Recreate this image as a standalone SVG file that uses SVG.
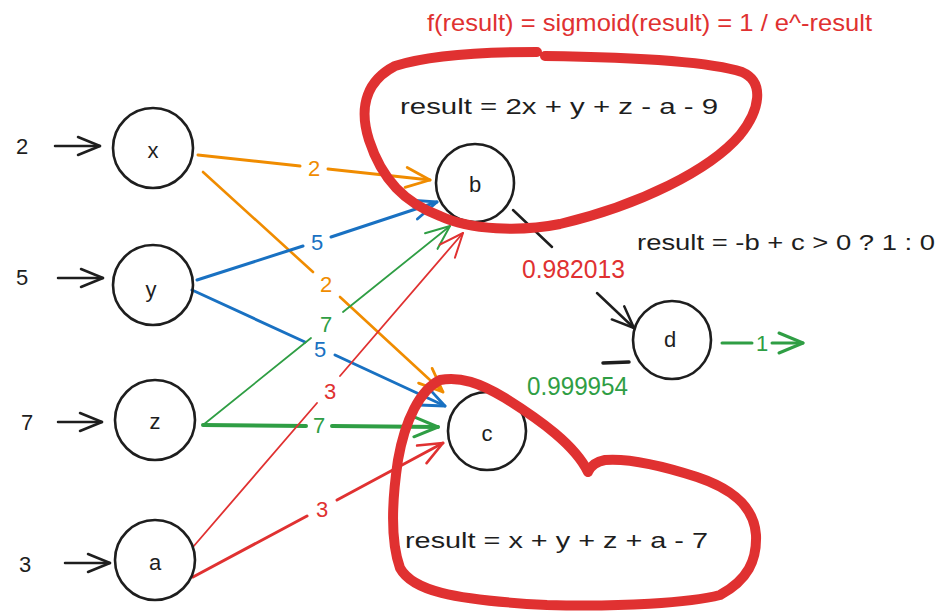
<svg xmlns="http://www.w3.org/2000/svg" width="950" height="613" viewBox="0 0 950 613">
  <style>
    .t { font-family: "Liberation Sans", Arial, sans-serif; }
    .node { fill: none; stroke: #1e1e1e; stroke-width: 2.6; }
    .nl { font-size: 22px; fill: #1e1e1e; text-anchor: middle; dominant-baseline: central; }
    .el { font-size: 22px; text-anchor: middle; dominant-baseline: central; }
    .e { fill: none; stroke-linecap: round; }
    .blob { fill: none; stroke: #e03131; stroke-width: 10; stroke-linecap: round; stroke-linejoin: round; }
  </style>
  <defs>
    <marker id="ah-k" markerUnits="userSpaceOnUse" markerWidth="30" markerHeight="24" viewBox="-26 -12 30 24" refX="0" refY="0" orient="auto">
      <path d="M-22,-9 L0,0 L-22,9" fill="none" stroke="#1e1e1e" stroke-width="2.5" stroke-linecap="round" stroke-linejoin="round"/>
    </marker>
    <marker id="ah-o" markerUnits="userSpaceOnUse" markerWidth="30" markerHeight="24" viewBox="-26 -12 30 24" refX="0" refY="0" orient="auto">
      <path d="M-24,-10 L0,0 L-24,10" fill="none" stroke="#f08c00" stroke-width="2.8" stroke-linecap="round" stroke-linejoin="round"/>
    </marker>
    <marker id="ah-b" markerUnits="userSpaceOnUse" markerWidth="30" markerHeight="24" viewBox="-26 -12 30 24" refX="0" refY="0" orient="auto">
      <path d="M-24,-10 L0,0 L-24,10" fill="none" stroke="#1971c2" stroke-width="2.8" stroke-linecap="round" stroke-linejoin="round"/>
    </marker>
    <marker id="ah-g" markerUnits="userSpaceOnUse" markerWidth="30" markerHeight="24" viewBox="-26 -12 30 24" refX="0" refY="0" orient="auto">
      <path d="M-24,-10 L0,0 L-24,10" fill="none" stroke="#2f9e44" stroke-width="3" stroke-linecap="round" stroke-linejoin="round"/>
    </marker>
    <marker id="ah-gt" markerUnits="userSpaceOnUse" markerWidth="30" markerHeight="24" viewBox="-26 -12 30 24" refX="0" refY="0" orient="auto">
      <path d="M-24,-10 L0,0 L-24,10" fill="none" stroke="#2f9e44" stroke-width="2" stroke-linecap="round" stroke-linejoin="round"/>
    </marker>
    <marker id="ah-r" markerUnits="userSpaceOnUse" markerWidth="30" markerHeight="24" viewBox="-26 -12 30 24" refX="0" refY="0" orient="auto">
      <path d="M-24,-10 L0,0 L-24,10" fill="none" stroke="#e03131" stroke-width="2.6" stroke-linecap="round" stroke-linejoin="round"/>
    </marker>
    <marker id="ah-rt" markerUnits="userSpaceOnUse" markerWidth="30" markerHeight="24" viewBox="-26 -12 30 24" refX="0" refY="0" orient="auto">
      <path d="M-24,-10 L0,0 L-24,10" fill="none" stroke="#e03131" stroke-width="2" stroke-linecap="round" stroke-linejoin="round"/>
    </marker>
  </defs>

  <!-- input values -->
  <g id="inputs" class="t">
    <text x="22" y="146" class="nl">2</text>
    <text x="22" y="277" class="nl">5</text>
    <text x="27" y="422" class="nl">7</text>
    <text x="25" y="564" class="nl">3</text>
  </g>

  <!-- connectors -->
  <g id="connectors">
    <!-- inputs -->
    <line class="e" x1="55" y1="146" x2="100" y2="146" stroke="#1e1e1e" stroke-width="2.5" marker-end="url(#ah-k)"/>
    <line class="e" x1="58" y1="278" x2="103" y2="278" stroke="#1e1e1e" stroke-width="2.5" marker-end="url(#ah-k)"/>
    <line class="e" x1="58" y1="422" x2="102" y2="422" stroke="#1e1e1e" stroke-width="2.5" marker-end="url(#ah-k)"/>
    <line class="e" x1="65" y1="563" x2="110" y2="563" stroke="#1e1e1e" stroke-width="2.5" marker-end="url(#ah-k)"/>

    <!-- x -> b -->
    <line class="e" x1="198" y1="155" x2="300" y2="166" stroke="#f08c00" stroke-width="3"/>
    <line class="e" x1="328" y1="169" x2="430" y2="180" stroke="#f08c00" stroke-width="3" marker-end="url(#ah-o)"/>
    <!-- x -> c -->
    <line class="e" x1="203" y1="172" x2="313" y2="272" stroke="#f08c00" stroke-width="2.6"/>
    <line class="e" x1="340" y1="297" x2="443" y2="392" stroke="#f08c00" stroke-width="2.6" marker-end="url(#ah-o)"/>
    <!-- y -> b -->
    <line class="e" x1="197" y1="280" x2="303" y2="246" stroke="#1971c2" stroke-width="3"/>
    <line class="e" x1="331" y1="237" x2="437" y2="202" stroke="#1971c2" stroke-width="3" marker-end="url(#ah-b)"/>
    <!-- y -> c -->
    <line class="e" x1="192" y1="290" x2="305" y2="342" stroke="#1971c2" stroke-width="3"/>
    <line class="e" x1="335" y1="355" x2="445" y2="406" stroke="#1971c2" stroke-width="3" marker-end="url(#ah-b)"/>
    <!-- z -> b -->
    <line class="e" x1="203" y1="425" x2="311" y2="338" stroke="#2f9e44" stroke-width="1.8"/>
    <line class="e" x1="343" y1="312" x2="450" y2="226" stroke="#2f9e44" stroke-width="1.8" marker-end="url(#ah-gt)"/>
    <!-- z -> c -->
    <line class="e" x1="203" y1="425" x2="306" y2="426" stroke="#2f9e44" stroke-width="4"/>
    <line class="e" x1="332" y1="426" x2="438" y2="427" stroke="#2f9e44" stroke-width="4" marker-end="url(#ah-g)"/>
    <!-- a -> b -->
    <line class="e" x1="193" y1="547" x2="317" y2="403" stroke="#e03131" stroke-width="1.8"/>
    <line class="e" x1="340" y1="376" x2="463" y2="233" stroke="#e03131" stroke-width="1.8" marker-end="url(#ah-rt)"/>
    <!-- a -> c -->
    <line class="e" x1="193" y1="577" x2="307" y2="516" stroke="#e03131" stroke-width="3"/>
    <line class="e" x1="337" y1="500" x2="443" y2="443" stroke="#e03131" stroke-width="3" marker-end="url(#ah-r)"/>
    <!-- b -> d -->
    <line class="e" x1="513" y1="210" x2="552" y2="247" stroke="#1e1e1e" stroke-width="2.5"/>
    <line class="e" x1="597" y1="293" x2="634" y2="328" stroke="#1e1e1e" stroke-width="2.5" marker-end="url(#ah-k)"/>
    <!-- c -> d -->
    <line class="e" x1="603" y1="363" x2="629" y2="362" stroke="#1e1e1e" stroke-width="3.5"/>
    <!-- d -> output -->
    <line class="e" x1="722" y1="343" x2="752" y2="343" stroke="#2f9e44" stroke-width="3"/>
    <line class="e" x1="772" y1="343" x2="803" y2="343" stroke="#2f9e44" stroke-width="3" marker-end="url(#ah-g)"/>

    <!-- connector labels -->
    <g class="t">
      <text x="314" y="168" class="el" fill="#f08c00">2</text>
      <text x="326" y="284" class="el" fill="#f08c00">2</text>
      <text x="317" y="242" class="el" fill="#1971c2">5</text>
      <text x="320" y="349" class="el" fill="#1971c2">5</text>
      <text x="326" y="324" class="el" fill="#2f9e44">7</text>
      <text x="319" y="425" class="el" fill="#2f9e44">7</text>
      <text x="330" y="391" class="el" fill="#e03131">3</text>
      <text x="322" y="509" class="el" fill="#e03131">3</text>
      <text x="762" y="343" class="el" fill="#2f9e44">1</text>
      <text x="522" y="278" font-size="25" fill="#e03131" textLength="103" lengthAdjust="spacingAndGlyphs">0.982013</text>
      <text x="527" y="395" font-size="25" fill="#2f9e44" textLength="101" lengthAdjust="spacingAndGlyphs">0.999954</text>
    </g>
  </g>

  <!-- nodes -->
  <g id="node-x"><circle class="node" cx="153" cy="148" r="40"/><text x="153" y="150" class="t nl">x</text></g>
  <g id="node-y"><circle class="node" cx="153" cy="285" r="40"/><text x="151" y="289" class="t nl">y</text></g>
  <g id="node-z"><circle class="node" cx="155" cy="420" r="40"/><text x="155" y="421" class="t nl">z</text></g>
  <g id="node-a"><circle class="node" cx="155" cy="560" r="40"/><text x="155" y="562" class="t nl">a</text></g>
  <g id="node-b"><circle class="node" cx="475" cy="183" r="39"/><text x="475" y="184" class="t nl">b</text></g>
  <g id="node-c"><circle class="node" cx="487" cy="431" r="39"/><text x="487" y="433" class="t nl">c</text></g>
  <g id="node-d"><circle class="node" cx="672" cy="340" r="39"/><text x="670" y="339" class="t nl">d</text></g>

  <!-- annotations -->
  <g id="annotations" class="t">
    <text x="427" y="31" font-size="24" fill="#e03131" textLength="445" lengthAdjust="spacingAndGlyphs">f(result) = sigmoid(result) = 1 / e^-result</text>
    <text x="400" y="114" font-size="22" fill="#1e1e1e" textLength="318" lengthAdjust="spacingAndGlyphs">result = 2x + y + z - a - 9</text>
    <text x="637" y="250" font-size="22" fill="#1e1e1e" textLength="298" lengthAdjust="spacingAndGlyphs">result = -b + c &gt; 0 ? 1 : 0</text>
    <text x="405" y="548" font-size="22" fill="#1e1e1e" textLength="303" lengthAdjust="spacingAndGlyphs">result = x + y + z + a - 7</text>
  </g>

  <!-- red highlight outlines -->
  <g id="highlight-b">
    <path class="blob" d="M 545 56 C 620 57, 705 60, 742 72 C 765 82, 760 110, 740 135 C 710 170, 640 205, 560 224 C 520 232, 470 230, 440 216 C 405 203, 382 180, 369 140 C 358 105, 368 80, 395 66 C 430 55, 490 52, 537 52"/>
  </g>
  <g id="highlight-c">
    <path class="blob" d="M 588 472 C 575 445, 540 420, 505 398 C 480 383, 460 376, 440 380 C 420 390, 405 420, 398 460 C 392 500, 390 540, 400 568 C 412 590, 450 600, 547 605 C 620 607, 690 603, 720 595 C 748 580, 757 560, 756 535 C 754 505, 730 488, 697 477 C 660 465, 630 458, 605 460 C 595 462, 590 467, 588 472"/>
  </g>
</svg>
